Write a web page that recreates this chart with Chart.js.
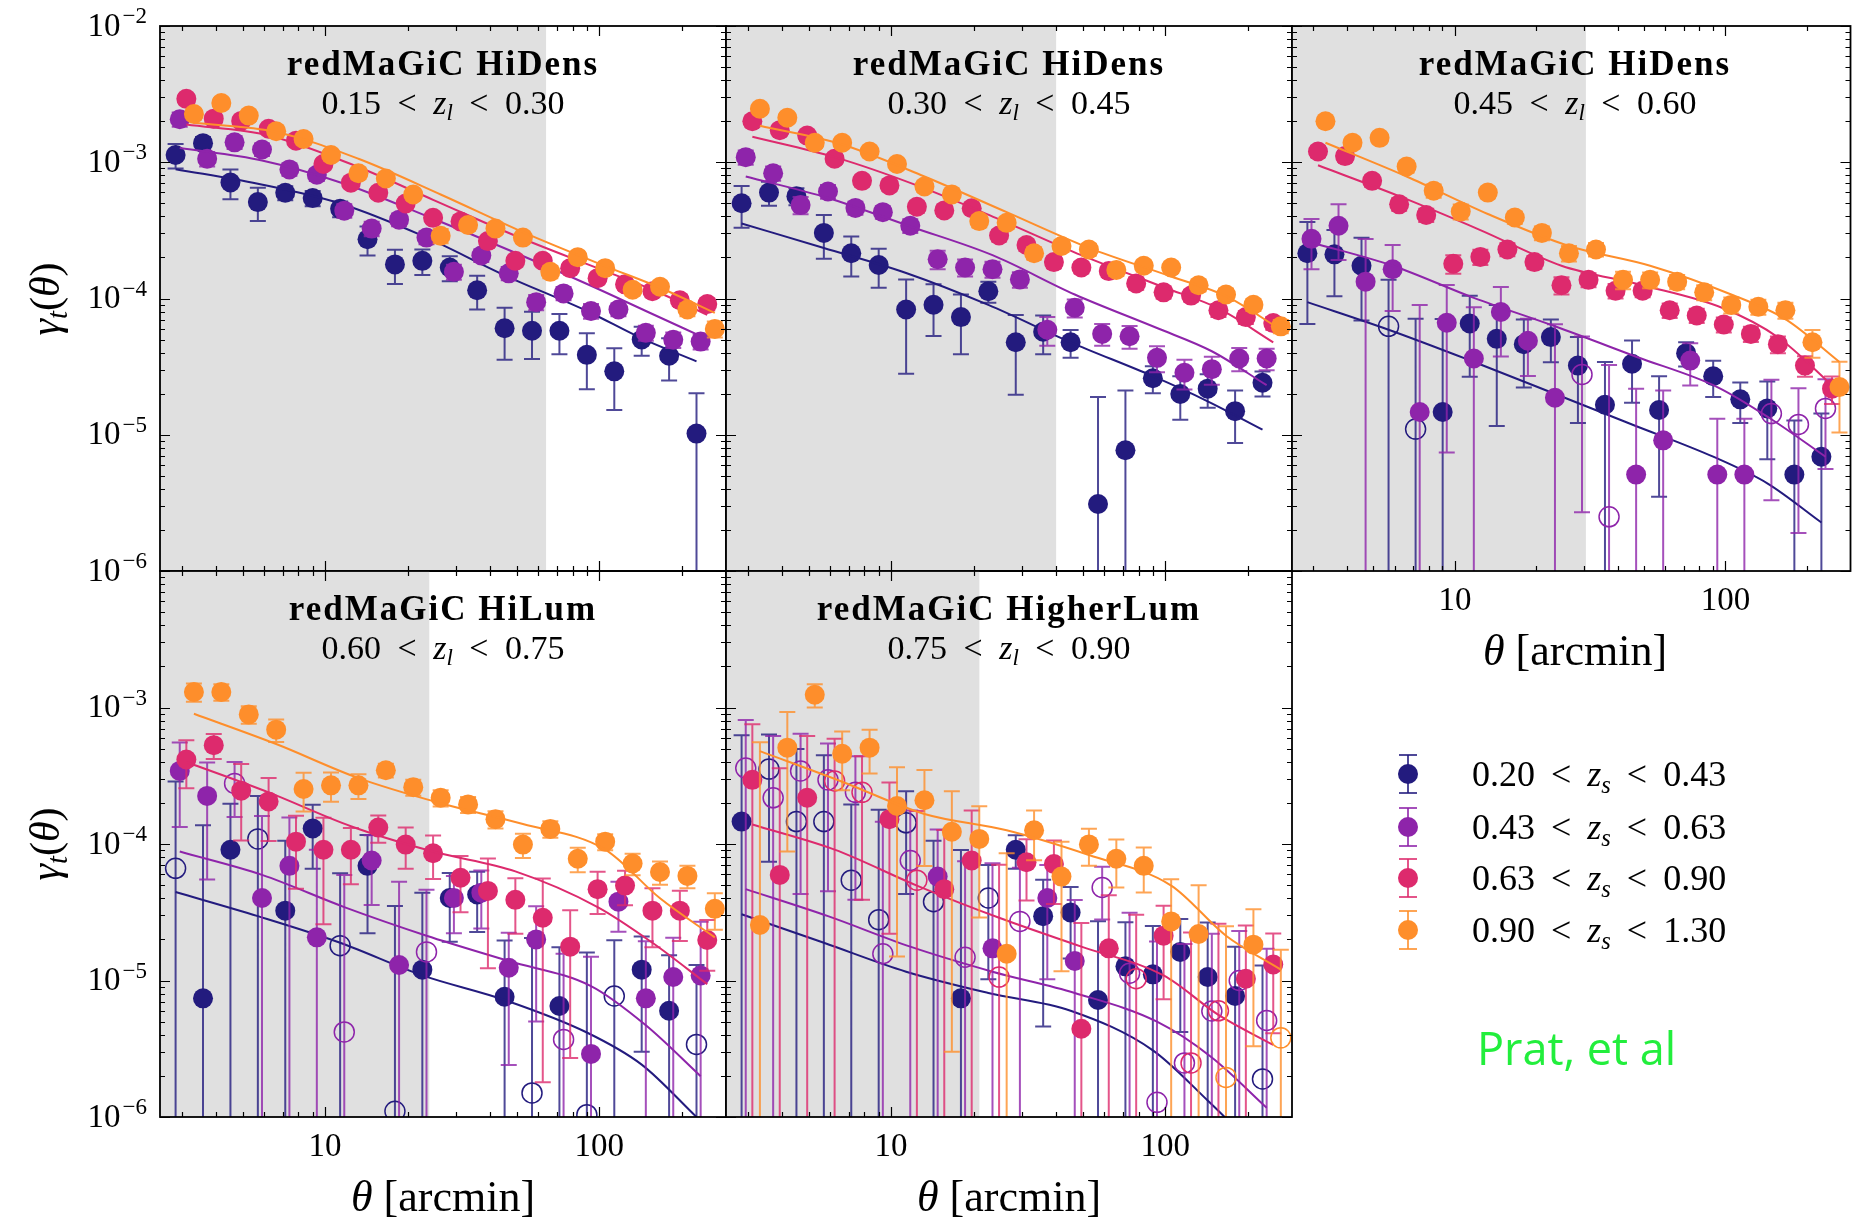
<!DOCTYPE html>
<html>
<head>
<meta charset="utf-8">
<title>Tangential shear around redMaGiC lenses</title>
<script src="https://cdn.jsdelivr.net/npm/chart.js@4.4.1/dist/chart.umd.min.js"></script>
<style>
  body { margin: 0; background: #fff; }
  #page { position: relative; width: 1862px; height: 1218px; overflow: hidden; font-family: 'Liberation Serif', 'DejaVu Serif', serif; color: #000; }
  #page canvas { position: absolute; left: 0; top: 0; }
  .txt { position: absolute; white-space: nowrap; line-height: 1; transform: translate(-50%, -50%); }
  .head { font-weight: bold; font-size: 35px; letter-spacing: 2px; }
  .range { font-size: 34px; word-spacing: 8px; }
  sub { font-size: 0.68em; vertical-align: -0.28em; line-height: 0; }
  .axt { font-size: 44px; }
  .ylab { font-size: 42px; transform: translate(-50%, -50%) rotate(-90deg); }
  .legtxt { position: absolute; left: 1472px; font-size: 36px; word-spacing: 7px; white-space: nowrap; line-height: 1; transform: translateY(-50%); }
  .mk { position: absolute; }
  #credit { position: absolute; left: 1477px; top: 1047px; transform: translateY(-50%); font-family: 'Open Sans', sans-serif; font-size: 45px; color: #22ee3c; white-space: nowrap; line-height: 1; }
</style>
</head>
<body>
<div id="page"></div>
<script>
/**
 * Tangential shear gamma_t(theta) around redMaGiC lenses, five lens bins,
 * four source bins each. Negative measurements are shown as open circles.
 */

// ---- values ----
const thetaBins = [2.805, 3.531, 4.446, 5.597, 7.046, 8.871, 11.17, 14.06, 17.70, 22.28,
                   28.05, 35.31, 44.46, 55.97, 70.46, 88.71, 111.7, 140.6, 177.0, 222.8];
const modelTheta = [2.805, 5.597, 11.17, 22.28, 44.46, 88.71, 140.6, 222.8];
const sourceShift = [1.016, 1.052, 1.112, 1.185];
const sourceColors = ['#231b7e', '#8e24aa', '#dd2a6d', '#fe8e2b'];
const sourceBins = [['0.20', '0.43'], ['0.43', '0.63'], ['0.63', '0.90'], ['0.90', '1.30']];
const lensSamples = ['redMaGiC HiDens', 'redMaGiC HiDens', 'redMaGiC HiDens', 'redMaGiC HiLum', 'redMaGiC HigherLum'];
const lensBins = [['0.15', '0.30'], ['0.30', '0.45'], ['0.45', '0.60'], ['0.60', '0.75'], ['0.75', '0.90']];
const scaleCuts = [64, 40, 30.5, 24, 21];
const xTickValues = [10, 100];
const yTickExponents = [-2, -3, -4, -5, -6];

// lens bin 1: signal, error, model (rows = source bins)
const signalL1 = [
  [1.13e-3, 1.38e-3, 7.1e-4, 5.1e-4, 5.97e-4, 5.46e-4, 4.55e-4, 2.72e-4, 1.78e-4, 1.89e-4, 1.69e-4, 1.15e-4, 6.05e-5, 5.8e-5, 5.8e-5, 3.86e-5, 2.92e-5, 5.0e-5, 3.8e-5, 1.02e-5],
  [2.07e-3, 1.06e-3, 1.40e-3, 1.24e-3, 8.86e-4, 8.09e-4, 4.41e-4, 3.26e-4, 3.79e-4, 2.8e-4, 1.57e-4, 2.07e-4, 1.53e-4, 9.4e-5, 1.09e-4, 8.1e-5, 8.3e-5, 5.6e-5, 4.98e-5, 4.83e-5],
  [2.92e-3, 2.09e-3, 2.01e-3, 1.76e-3, 1.44e-3, 9.7e-4, 7.08e-4, 5.97e-4, 4.98e-4, 3.91e-4, 3.68e-4, 2.64e-4, 1.89e-4, 1.89e-4, 1.67e-4, 1.41e-4, 1.27e-4, 1.13e-4, 9.7e-5, 9.1e-5],
  [2.26e-3, 2.72e-3, 2.2e-3, 1.69e-3, 1.48e-3, 1.13e-3, 8.3e-4, 7.6e-4, 5.8e-4, 2.89e-4, 3.46e-4, 3.26e-4, 2.8e-4, 1.57e-4, 2.01e-4, 1.67e-4, 1.16e-4, 1.22e-4, 8.3e-5, 5.97e-5]
];
const errorL1 = [
  [2.3e-4, 1.5e-4, 1.76e-4, 1.4e-4, 7e-5, 7e-5, 6e-5, 6.5e-5, 5e-5, 4e-5, 3.5e-5, 3.2e-5, 2.5e-5, 2.2e-5, 1.9e-5, 1.7e-5, 1.4e-5, 1.2e-5, 1.3e-5, 1.0e-5],
  [2.5e-4, 1.3e-4, 1.5e-4, 1.3e-4, 9e-5, 8e-5, 5e-5, 4e-5, 4e-5, 3e-5, 2e-5, 2.2e-5, 1.7e-5, 1.2e-5, 1.2e-5, 1e-5, 9e-6, 7e-6, 6.5e-6, 6e-6],
  [2.5e-4, 1.7e-4, 1.5e-4, 1.3e-4, 1.1e-4, 8e-5, 6e-5, 5e-5, 4e-5, 3.2e-5, 3e-5, 2.2e-5, 1.7e-5, 1.6e-5, 1.4e-5, 1.2e-5, 1.1e-5, 1e-5, 9e-6, 9e-6],
  [2e-4, 2.4e-4, 1.9e-4, 1.5e-4, 1.3e-4, 1e-4, 7.5e-5, 6.5e-5, 5e-5, 3.5e-5, 3.2e-5, 2.8e-5, 2.4e-5, 1.6e-5, 1.7e-5, 1.4e-5, 1.1e-5, 1.1e-5, 9e-6, 8e-6]
];
const modelL1 = [
  [8.9e-4, 6.95e-4, 4.98e-4, 2.89e-4, 1.48e-4, 8.1e-5, 5.1e-5, 3.46e-5],
  [1.27e-3, 1.03e-3, 6.95e-4, 4.03e-4, 2.27e-4, 1.24e-4, 8.1e-5, 5.3e-5],
  [1.89e-3, 1.57e-3, 9.7e-4, 5.3e-4, 2.89e-4, 1.67e-4, 1.16e-4, 7.6e-5],
  [1.95e-3, 1.67e-3, 1.06e-3, 5.8e-4, 3.07e-4, 1.73e-4, 1.2e-4, 7.85e-5]
];

// lens bin 2
const signalL2 = [
  [5.0e-4, 5.99e-4, 5.64e-4, 3.03e-4, 2.15e-4, 1.76e-4, 8.3e-5, 9.0e-5, 7.3e-5, 1.13e-4, 4.77e-5, 5.7e-5, 4.77e-5, 3.1e-6, 7.7e-6, 2.6e-5, 1.99e-5, 2.18e-5, 1.49e-5, 2.41e-5],
  [1.09e-3, 8.3e-4, 4.85e-4, 6.1e-4, 4.62e-4, 4.3e-4, 3.42e-4, 1.94e-4, 1.69e-4, 1.64e-4, 1.38e-4, 5.9e-5, 8.55e-5, 5.5e-5, 5.28e-5, 3.67e-5, 2.85e-5, 3.03e-5, 3.63e-5, 3.63e-5],
  [2.0e-3, 1.72e-3, 1.57e-3, 1.06e-3, 7.3e-4, 6.76e-4, 4.71e-4, 4.43e-4, 4.6e-4, 2.9e-4, 2.47e-4, 1.85e-4, 1.69e-4, 1.59e-4, 1.29e-4, 1.11e-4, 1.05e-4, 8.2e-5, 7.3e-5, 6.6e-5],
  [2.47e-3, 2.12e-3, 1.39e-3, 1.39e-3, 1.2e-3, 9.7e-4, 6.64e-4, 5.81e-4, 3.7e-4, 3.59e-4, 2.15e-4, 2.43e-4, 2.29e-4, 1.62e-4, 1.74e-4, 1.69e-4, 1.25e-4, 1.07e-4, 9.0e-5, 6.25e-5]
];
const errorL2 = [
  [1.7e-4, 1.2e-4, 8e-5, 1.07e-4, 7e-5, 5.6e-5, 5.5e-5, 3.7e-5, 3.4e-5, 2e-5, 2.8e-5, 1.8e-5, 1.1e-5, 1.58e-5, 1.34e-5, 5.8e-6, 7e-6, 6e-6, 6.2e-6, 5e-6],
  [1.3e-4, 1e-4, 7e-5, 7e-5, 5e-5, 4.5e-5, 4e-5, 3e-5, 2.4e-5, 2.2e-5, 1.8e-5, 1.4e-5, 1.3e-5, 1e-5, 1e-5, 8e-6, 7e-6, 7e-6, 7e-6, 6.5e-6],
  [1.8e-4, 1.5e-4, 1.3e-4, 9e-5, 6.5e-5, 6e-5, 4.5e-5, 4e-5, 4e-5, 2.8e-5, 2.4e-5, 1.8e-5, 1.6e-5, 1.5e-5, 1.3e-5, 1.1e-5, 1e-5, 9e-6, 8e-6, 7e-6],
  [2e-4, 1.8e-4, 1.2e-4, 1.2e-4, 1e-4, 8e-5, 6e-5, 5e-5, 3.6e-5, 3.4e-5, 2.2e-5, 2.4e-5, 2.2e-5, 1.6e-5, 1.6e-5, 1.5e-5, 1.2e-5, 1.1e-5, 9e-6, 7e-6]
];
const modelL2 = [
  [3.55e-4, 2.35e-4, 1.54e-4, 8.97e-5, 4.77e-5, 2.69e-5, 1.76e-5, 1.09e-5],
  [7.86e-4, 5.47e-4, 3.38e-4, 2.08e-4, 1.07e-4, 6.07e-5, 4.1e-5, 2.31e-5],
  [1.54e-3, 1.09e-3, 6.76e-4, 3.81e-4, 2.08e-4, 1.21e-4, 8.45e-5, 4.77e-5],
  [1.85e-3, 1.35e-3, 7.86e-4, 4.3e-4, 2.35e-4, 1.45e-4, 1.04e-4, 5.9e-5]
];

// lens bin 3
const signalL3 = [
  [2.15e-4, 2.11e-4, 1.74e-4, -6.25e-5, -1.1e-5, 1.47e-5, 6.56e-5, 5.06e-5, 4.62e-5, 5.21e-5, 3.22e-5, 1.66e-5, 3.32e-5, 1.52e-5, 3.97e-5, 2.69e-5, 1.82e-5, 1.56e-5, 5.1e-6, 6.9e-6],
  [2.74e-4, 3.42e-4, 1.33e-4, 1.64e-4, 1.47e-5, 6.64e-5, 3.63e-5, 7.96e-5, 4.9e-5, 1.87e-5, -2.77e-5, -2.5e-6, 5.1e-6, 9.1e-6, 3.5e-5, 5.1e-6, 5.1e-6, -1.43e-5, -1.19e-5, -1.56e-5],
  [1.2e-3, 1.11e-3, 7.3e-4, 4.91e-4, 4.1e-4, 1.8e-4, 2.02e-4, 2.29e-4, 1.85e-4, 1.25e-4, 1.37e-4, 1.14e-4, 1.14e-4, 8.2e-5, 7.5e-5, 6.44e-5, 5.5e-5, 4.62e-5, 3.22e-5, 2.18e-5],
  [2.0e-3, 1.39e-3, 1.51e-3, 9.3e-4, 6.18e-4, 4.35e-4, 5.99e-4, 3.93e-4, 3.03e-4, 2.15e-4, 2.29e-4, 1.37e-4, 1.37e-4, 1.33e-4, 1.11e-4, 8.97e-5, 8.7e-5, 8.2e-5, 4.77e-5, 2.24e-5]
];
const errorL3 = [
  [1.5e-4, 1.07e-4, 1.05e-4, 7.5e-5, 6e-5, 5.6e-5, 3.9e-5, 3.9e-5, 2.4e-5, 1.8e-5, 2e-5, 1.76e-5, 1.6e-5, 1.17e-5, 8e-6, 8e-6, 6e-6, 9e-6, 7.6e-6, 7.4e-6],
  [1.1e-4, 1.5e-4, 1.4e-4, 8.3e-5, 7.5e-5, 5.9e-5, 5e-5, 4.2e-5, 2.2e-5, 4.6e-5, 2.5e-5, 3e-5, 1.67e-5, 1.2e-5, 1.2e-5, 8e-6, 8e-6, 1.1e-5, 1e-5, 1e-5],
  [1.1e-4, 1e-4, 7e-5, 5e-5, 4.5e-5, 2.8e-5, 2.6e-5, 2.5e-5, 2e-5, 1.8e-5, 1.6e-5, 1.4e-5, 1.2e-5, 1e-5, 9e-6, 8e-6, 7e-6, 6.5e-6, 5.5e-6, 5e-6],
  [1.6e-4, 1.3e-4, 1.3e-4, 9e-5, 7e-5, 5.5e-5, 5.5e-5, 4e-5, 3.5e-5, 2.8e-5, 2.6e-5, 2e-5, 1.8e-5, 1.6e-5, 1.4e-5, 1.2e-5, 1.1e-5, 1.1e-5, 1.1e-5, 1.2e-5]
];
const modelL3 = [
  [9.4e-5, 5.9e-5, 3.52e-5, 2.05e-5, 1.19e-5, 6.9e-6, 4.4e-6, 2.27e-6],
  [2.58e-4, 1.74e-4, 1.01e-4, 6.25e-5, 3.74e-5, 2.24e-5, 1.3e-5, 6.9e-6],
  [9.5e-4, 5.64e-4, 3.18e-4, 1.74e-4, 1.25e-4, 8.45e-5, 5.2e-5, 2.31e-5],
  [1.39e-3, 7.86e-4, 4.17e-4, 2.43e-4, 1.74e-4, 1.07e-4, 7.05e-5, 3.42e-5]
];

// lens bin 4
const signalL4 = [
  [-6.64e-5, 7.4e-6, 9.08e-5, -1.09e-4, 3.25e-5, 1.3e-4, -1.8e-5, 6.92e-5, -1.1e-6, 1.2e-5, 4.02e-5, 4.27e-5, 7.6e-6, -1.5e-6, 6.5e-6, -1.04e-6, -7.7e-6, 1.2e-5, 6.0e-6, -3.4e-6],
  [3.43e-4, 2.25e-4, -2.78e-4, 4.02e-5, 6.92e-5, 2.07e-5, -4.2e-6, 7.57e-5, 1.3e-5, -1.62e-5, 4.02e-5, 4.4e-5, 1.24e-5, 2.0e-5, -3.7e-6, 2.9e-6, 3.78e-5, 7.4e-6, 1.06e-5, 1.09e-5],
  [4.16e-4, 5.3e-4, 2.46e-4, 2.05e-4, 1.04e-4, 9.08e-5, 9.08e-5, 1.32e-4, 9.9e-5, 8.55e-5, 5.66e-5, 4.53e-5, 3.9e-5, 2.88e-5, 1.77e-5, 4.67e-5, 4.96e-5, 3.25e-5, 3.25e-5, 1.98e-5],
  [1.3e-3, 1.3e-3, 8.9e-4, 6.88e-4, 2.53e-4, 2.69e-4, 2.69e-4, 3.47e-4, 2.61e-4, 2.18e-4, 1.95e-4, 1.52e-4, 9.9e-5, 1.29e-4, 7.8e-5, 1.04e-4, 7.2e-5, 6.23e-5, 5.84e-5, 3.35e-5]
];
const errorL4 = [
  [2.2e-4, 1.3e-4, 1.06e-4, 1.16e-4, 7.3e-5, 6.4e-5, 4.3e-5, 4.7e-5, 3.4e-5, 3.2e-5, 2.1e-5, 2e-5, 1.2e-5, 1.9e-5, 1.1e-5, 1.5e-5, 1.2e-5, 9e-6, 9.3e-6, 9.6e-6],
  [2.1e-4, 1.7e-4, 1.2e-4, 1.2e-4, 8.7e-5, 7e-5, 5.5e-5, 4e-5, 4e-5, 3e-5, 1.8e-5, 2e-5, 1e-5, 1.5e-5, 1.2e-5, 1.2e-5, 1.5e-5, 1.2e-5, 1e-5, 1.6e-5],
  [1.6e-4, 1.1e-4, 1.4e-4, 1e-4, 5.7e-5, 6.5e-5, 4e-5, 3e-5, 3.3e-5, 3e-5, 2.5e-5, 3.3e-5, 1.7e-5, 2.7e-5, 1.5e-5, 1.6e-5, 1.4e-5, 1.5e-5, 1.3e-5, 8e-6],
  [2e-4, 1.8e-4, 1.3e-4, 1.3e-4, 8e-5, 6.5e-5, 5.5e-5, 4e-5, 3.5e-5, 3e-5, 2.6e-5, 2.2e-5, 2e-5, 1.8e-5, 1.6e-5, 1.4e-5, 1.3e-5, 1.2e-5, 1.1e-5, 1e-5]
];
const modelL4 = [
  [4.45e-5, 2.96e-5, 1.89e-5, 1.09e-5, 7.2e-6, 4.16e-6, 2.42e-6, 1.0e-6],
  [8.8e-5, 5.94e-5, 3.45e-5, 2.13e-5, 1.39e-5, 9.1e-6, 4.7e-6, 1.99e-6],
  [3.99e-4, 2.39e-4, 1.35e-4, 8.8e-5, 6.3e-5, 3.45e-5, 1.89e-5, 9.4e-6],
  [9.0e-4, 5.4e-4, 3.04e-4, 1.99e-4, 1.4e-4, 9.1e-5, 4.0e-5, 2.07e-5]
];

// lens bin 5
const signalL5 = [
  [1.46e-4, -3.54e-4, -1.46e-4, -1.46e-4, -5.43e-5, -2.79e-5, -1.43e-4, -3.78e-5, 7.4e-6, -4.02e-5, 9.08e-5, 2.96e-5, 3.15e-5, 7.2e-6, 1.27e-5, 1.11e-5, 1.62e-5, 1.06e-5, 7.7e-6, -1.9e-6],
  [-3.6e-4, -2.18e-4, -3.43e-4, -2.95e-4, -2.39e-4, -1.57e-5, -7.57e-5, 5.77e-5, -1.48e-5, 1.72e-5, -2.71e-5, 4.02e-5, 1.39e-5, -4.8e-5, -1.13e-5, -1.28e-6, -2.49e-6, -5.98e-6, -1.0e-5, -5.1e-6],
  [2.95e-4, 5.94e-5, 2.18e-4, -2.9e-4, -2.39e-4, 1.52e-4, -5.43e-5, 4.67e-5, 7.57e-5, -1.06e-5, 7.35e-5, 7.13e-5, 4.43e-6, 1.72e-5, -1.03e-5, 2.13e-5, -2.49e-6, -6.0e-6, 1.03e-5, 1.31e-5],
  [2.55e-5, 5.08e-4, 1.24e-3, 4.58e-4, 5.08e-4, 1.9e-4, 2.09e-4, 1.23e-4, 1.09e-4, 1.57e-5, 1.26e-4, 5.77e-5, 9.93e-5, 7.8e-5, 6.92e-5, 2.71e-5, 2.19e-5, -1.95e-6, 1.83e-5, -3.8e-6]
];
const errorL5 = [
  [4.8e-4, 2.8e-4, 3.5e-4, 3e-4, 1.4e-4, 1.5e-4, 1e-4, 6.8e-5, 8.3e-5, 3e-5, 2.5e-5, 2.5e-5, 1.7e-5, 2e-5, 1.4e-5, 1.4e-5, 1.2e-5, 1.6e-5, 1e-5, 1.1e-5],
  [4.5e-4, 4e-4, 3e-4, 2.5e-4, 2e-4, 1.3e-4, 1e-4, 7e-5, 6e-5, 5.5e-5, 4e-5, 3e-5, 2.5e-5, 2e-5, 2e-5, 1.8e-5, 1.6e-5, 1.6e-5, 1.3e-5, 1.2e-5],
  [4.6e-4, 3e-4, 4e-4, 3e-4, 2e-4, 1.3e-4, 1.2e-4, 8e-5, 1e-4, 6e-5, 3.5e-5, 3.5e-5, 2.2e-5, 2.5e-5, 2e-5, 1.4e-5, 2e-5, 2e-5, 1.5e-5, 9e-6],
  [5.3e-4, 4.2e-4, 2.4e-4, 2.1e-4, 1.8e-4, 1.75e-4, 1.4e-4, 1.2e-4, 8e-5, 7e-5, 5e-5, 4.6e-5, 3e-5, 3e-5, 2.5e-5, 2.8e-5, 2.8e-5, 2.3e-5, 1.5e-5, 1.3e-5]
];
const modelL5 = [
  [3.06e-5, 1.89e-5, 1.16e-5, 8.1e-6, 6.0e-6, 3.08e-6, 1.32e-6, 5.3e-7],
  [4.67e-5, 2.96e-5, 1.77e-5, 1.16e-5, 8.1e-6, 4.99e-6, 2.73e-6, 1.17e-6],
  [1.39e-4, 9.1e-5, 4.96e-5, 2.88e-5, 1.77e-5, 1.09e-5, 5.6e-6, 3.37e-6],
  [4.79e-4, 2.86e-4, 1.66e-4, 1.26e-4, 8.3e-5, 4.96e-5, 2.13e-5, 1.2e-5]
];

// ---- layout of the 2x3 grid (page pixels) ----
const PAGE_W = 1862, PAGE_H = 1218;
const panels = [
  { signal: signalL1, error: errorL1, model: modelL1, box: [160, 26, 726, 571], yTicks: yTickExponents, xTicks: [] },
  { signal: signalL2, error: errorL2, model: modelL2, box: [726, 26, 1292, 571], yTicks: [], xTicks: [] },
  { signal: signalL3, error: errorL3, model: modelL3, box: [1292, 26, 1858, 571], yTicks: [], xTicks: xTickValues },
  { signal: signalL4, error: errorL4, model: modelL4, box: [160, 571, 726, 1117], yTicks: yTickExponents.slice(1), xTicks: xTickValues },
  { signal: signalL5, error: errorL5, model: modelL5, box: [726, 571, 1292, 1117], yTicks: [], xTicks: xTickValues }
];

function withAlpha(hex, a) {
  const n = parseInt(hex.slice(1), 16);
  return `rgba(${n >> 16}, ${(n >> 8) & 255}, ${n & 255}, ${a})`;
}

// all k*10^e inside [min, max], k = 1 marks a major tick
function logTicks(min, max) {
  const out = [];
  for (let e = Math.floor(Math.log10(min)) - 1; e <= Math.ceil(Math.log10(max)); e++) {
    for (let k = 1; k <= 9; k++) {
      const v = k * Math.pow(10, e);
      if (v >= min * 0.999 && v <= max * 1.001) out.push({ v, major: k === 1 });
    }
  }
  return out;
}

// error bars are drawn right before their own markers, like matplotlib's errorbar
const errorBarPlugin = {
  id: 'errorBars',
  beforeDatasetDraw(chart, args) {
    const ds = chart.data.datasets[args.index];
    if (!ds.isSignal) return;
    const { ctx, chartArea: a, scales: { x, y } } = chart;
    ctx.save();
    ctx.beginPath();
    ctx.rect(a.left, a.top, a.right - a.left, a.bottom - a.top);
    ctx.clip();
    ctx.strokeStyle = withAlpha(ds.baseColor, 0.8);
    ctx.lineWidth = 2;
    ctx.beginPath();
    ds.data.forEach(p => {
      const px = x.getPixelForValue(p.x);
      const hi = y.getPixelForValue(p.y + p.err);
      const low = p.y - p.err;
      const lo = low > 0 ? y.getPixelForValue(low) : a.bottom + 20;
      ctx.moveTo(px, hi); ctx.lineTo(px, lo);
      ctx.moveTo(px - 8, hi); ctx.lineTo(px + 8, hi);
      if (low > 0) { ctx.moveTo(px - 8, lo); ctx.lineTo(px + 8, lo); }
    });
    ctx.stroke();
    ctx.restore();
  }
};

// grey scale-cut band, frame, inward ticks on all sides and tick labels
const mplAxesPlugin = {
  id: 'mplAxes',
  beforeDatasetsDraw(chart, args, opts) {
    const { ctx, chartArea: a, scales: { x } } = chart;
    ctx.save();
    ctx.fillStyle = '#e0e0e0';
    ctx.fillRect(a.left, a.top, x.getPixelForValue(opts.cut) - a.left, a.bottom - a.top);
    ctx.restore();
  },
  afterDraw(chart, args, opts) {
    const { ctx, chartArea: a, scales: { x, y } } = chart;
    ctx.save();
    ctx.strokeStyle = '#000';
    ctx.lineWidth = 1.2;
    ctx.beginPath();
    logTicks(x.min, x.max).forEach(t => {
      const px = Math.round(x.getPixelForValue(t.v)) + 0.5;
      const len = t.major ? 10 : 5;
      ctx.moveTo(px, a.bottom); ctx.lineTo(px, a.bottom - len);
      ctx.moveTo(px, a.top); ctx.lineTo(px, a.top + len);
    });
    logTicks(y.min, y.max).forEach(t => {
      const py = Math.round(y.getPixelForValue(t.v)) + 0.5;
      const len = t.major ? 10 : 5;
      ctx.moveTo(a.left, py); ctx.lineTo(a.left + len, py);
      ctx.moveTo(a.right, py); ctx.lineTo(a.right - len, py);
    });
    ctx.stroke();
    ctx.lineWidth = 1.8;
    ctx.strokeRect(a.left, a.top, a.right - a.left, a.bottom - a.top);

    ctx.fillStyle = '#000';
    opts.yTicks.forEach(e => {
      const py = y.getPixelForValue(Math.pow(10, e));
      const right = a.left - 13;
      ctx.font = '23px "Liberation Serif"';
      ctx.textAlign = 'right';
      ctx.textBaseline = 'middle';
      const expText = '\u2212' + Math.abs(e);
      ctx.fillText(expText, right, py - 9);
      const w = ctx.measureText(expText).width;
      ctx.font = '33px "Liberation Serif"';
      ctx.fillText('10', right - w - 2, py + 1);
    });
    opts.xTicks.forEach(v => {
      ctx.font = '33px "Liberation Serif"';
      ctx.textAlign = 'center';
      ctx.textBaseline = 'middle';
      ctx.fillText(String(v), x.getPixelForValue(v), a.bottom + 30);
    });
    ctx.restore();
  }
};

const page = document.getElementById('page');

panels.forEach((panel, p) => {
  const canvas = document.createElement('canvas');
  canvas.width = PAGE_W;
  canvas.height = PAGE_H;
  canvas.style.width = PAGE_W + 'px';
  canvas.style.height = PAGE_H + 'px';
  page.appendChild(canvas);

  const [left, top, right, bottom] = panel.box;
  const datasets = [];
  sourceColors.forEach((color, s) => {
    datasets.push({
      type: 'scatter',
      isSignal: true,
      baseColor: color,
      order: 20 - 2 * s,
      clip: 0,
      data: thetaBins.map((t, i) => ({
        x: t * sourceShift[s],
        y: Math.abs(panel.signal[s][i]),
        err: panel.error[s][i],
        neg: panel.signal[s][i] < 0
      })),
      pointRadius: 10,
      pointHoverRadius: 10,
      pointBackgroundColor: c => (c.raw && c.raw.neg ? 'rgba(0,0,0,0)' : color),
      pointBorderColor: color,
      pointBorderWidth: c => (c.raw && c.raw.neg ? 1.5 : 0),
      showLine: false
    });
    datasets.push({
      type: 'line',
      order: 19 - 2 * s,
      clip: 0,
      data: modelTheta.map((t, i) => ({ x: t * sourceShift[s], y: panel.model[s][i] })),
      borderColor: color,
      borderWidth: 2,
      pointRadius: 0,
      fill: false,
      cubicInterpolationMode: 'monotone'
    });
  });

  new Chart(canvas.getContext('2d'), {
    type: 'scatter',
    data: { datasets },
    options: {
      responsive: false,
      animation: false,
      devicePixelRatio: 1,
      events: [],
      layout: { padding: { left, top, right: PAGE_W - right, bottom: PAGE_H - bottom } },
      scales: {
        x: { type: 'logarithmic', min: 2.5, max: 290, display: false },
        y: { type: 'logarithmic', min: 1e-6, max: 1e-2, display: false }
      },
      plugins: {
        legend: { display: false },
        tooltip: { enabled: false },
        mplAxes: { cut: scaleCuts[p], yTicks: panel.yTicks, xTicks: panel.xTicks }
      }
    },
    plugins: [mplAxesPlugin, errorBarPlugin]
  });

  // panel titles
  const cx = (left + right) / 2;
  const head = document.createElement('div');
  head.className = 'txt head';
  head.style.left = cx + 'px';
  head.style.top = (top + 37) + 'px';
  head.textContent = lensSamples[p];
  page.appendChild(head);
  const range = document.createElement('div');
  range.className = 'txt range';
  range.style.left = cx + 'px';
  range.style.top = (top + 77) + 'px';
  range.innerHTML = `${lensBins[p][0]} &lt; <i>z</i><sub><i>l</i></sub> &lt; ${lensBins[p][1]}`;
  page.appendChild(range);

  if (panel.xTicks.length) {
    const xt = document.createElement('div');
    xt.className = 'txt axt';
    xt.style.left = cx + 'px';
    xt.style.top = (bottom + 80) + 'px';
    xt.innerHTML = '<i>θ</i> [arcmin]';
    page.appendChild(xt);
  }
  if (panel.yTicks.length) {
    const yt = document.createElement('div');
    yt.className = 'txt ylab';
    yt.style.left = '45px';
    yt.style.top = ((top + bottom) / 2) + 'px';
    yt.innerHTML = '<i>γ</i><sub><i>t</i></sub>(<i>θ</i>)';
    page.appendChild(yt);
  }
});

// legend in the empty sixth cell
const legendRows = [774, 827, 878, 930];
sourceBins.forEach((bin, s) => {
  const cy = legendRows[s];
  const color = sourceColors[s];
  const bar = withAlpha(color, 0.8);
  const parts = [
    { l: 1407, t: cy - 19, w: 2, h: 38, bg: bar },
    { l: 1399, t: cy - 20, w: 18, h: 2, bg: bar },
    { l: 1399, t: cy + 18, w: 18, h: 2, bg: bar },
    { l: 1398, t: cy - 10, w: 20, h: 20, bg: color, round: true }
  ];
  parts.forEach(m => {
    const d = document.createElement('div');
    d.className = 'mk';
    Object.assign(d.style, { left: m.l + 'px', top: m.t + 'px', width: m.w + 'px', height: m.h + 'px', background: m.bg });
    if (m.round) d.style.borderRadius = '50%';
    page.appendChild(d);
  });
  const txt = document.createElement('div');
  txt.className = 'legtxt';
  txt.style.top = cy + 'px';
  txt.innerHTML = `${bin[0]} &lt; <i>z</i><sub><i>s</i></sub> &lt; ${bin[1]}`;
  page.appendChild(txt);
});

const credit = document.createElement('div');
credit.id = 'credit';
credit.textContent = 'Prat, et al';
page.appendChild(credit);
</script>
</body>
</html>
